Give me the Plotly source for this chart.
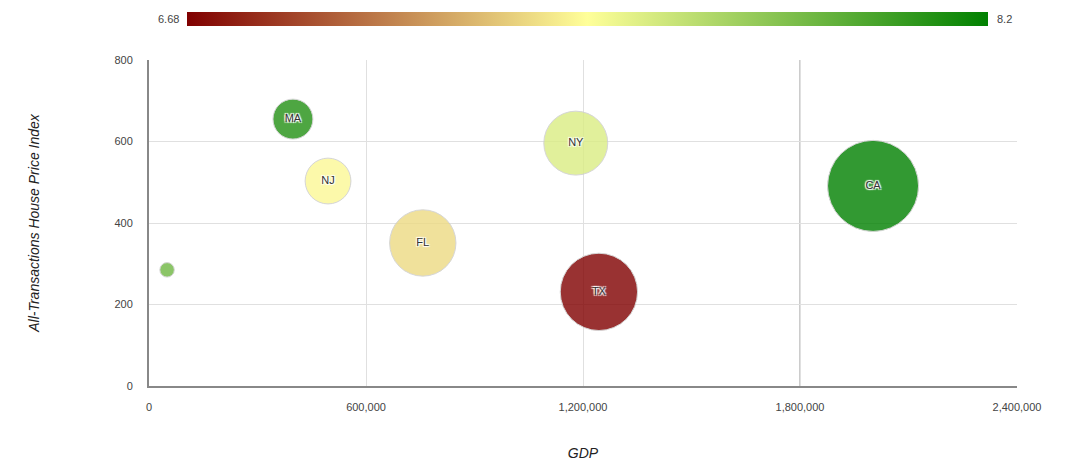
import plotly.graph_objects as go

# ---- data ----
states = ["DC", "MA", "NJ", "FL", "NY", "TX", "CA"]
gdp = [50000, 398000, 495000, 757000, 1180000, 1244000, 2002000]
hpi = [285, 655, 503, 351, 596, 231, 491]
color_val = [7.87, 8.10, 7.42, 7.33, 7.55, 6.68, 8.20]
population_m = [1.0, 7.6, 10.0, 21.0, 19.5, 28.5, 39.5]

x_ticks = [0, 600000, 1200000, 1800000, 2400000]
x_tick_text = ["0", "600,000", "1,200,000", "1,800,000", "2,400,000"]
y_ticks = [0, 200, 400, 600, 800]

FONT = "Liberation Sans, Arial, sans-serif"
max_diam = 91
sizeref = 2.0 * max(population_m) / (max_diam ** 2)
labels = [s if (p / sizeref) ** 0.5 > 20 else "" for s, p in zip(states, population_m)]

cmin, cmax = min(color_val), max(color_val)
colorscale = [[0.0, "#800000"], [0.5, "#ffff99"], [1.0, "#008000"]]

fig = go.Figure()
fig.add_trace(go.Scatter(
    x=gdp, y=hpi, mode="markers+text", text=labels,
    textposition="middle center",
    textfont=dict(family=FONT, size=11, color="#333333",
                  shadow="1px 1px 1px #fff, -1px -1px 1px #fff, 1px -1px 1px #fff, -1px 1px 1px #fff"),
    marker=dict(
        size=population_m, sizemode="area", sizeref=sizeref, sizemin=7,
        color=color_val, colorscale=colorscale, cmin=cmin, cmax=cmax,
        opacity=0.8, line=dict(color="#cccccc", width=1),
        showscale=True,
        colorbar=dict(
            orientation="h", x=0.505, xanchor="center", y=1.126, yanchor="middle",
            len=801, lenmode="pixels", thickness=14, outlinewidth=0,
            showticklabels=False, ticks="", xpad=0, ypad=0,
        ),
    ),
    hovertext=states, hoverinfo="text+x+y",
    showlegend=False,
))

fig.add_vline(x=x_ticks[3], line=dict(color="#999999", width=1), layer="below")

fig.add_annotation(text=f"{cmin:g}", xref="paper", yref="paper", x=(181 - 149) / 868,
                   y=1.126, xanchor="right", yanchor="middle", showarrow=False,
                   font=dict(family=FONT, size=11, color="#444444"))
fig.add_annotation(text=f"{cmax:g}", xref="paper", yref="paper", x=(995 - 149) / 868,
                   y=1.126, xanchor="left", yanchor="middle", showarrow=False,
                   font=dict(family=FONT, size=11, color="#444444"))

fig.update_layout(
    width=1066, height=453,
    margin=dict(l=141, r=57, t=52, b=75, autoexpand=False),
    paper_bgcolor="white", plot_bgcolor="white",
    font=dict(family=FONT, size=11, color="#444444"),
    xaxis=dict(
        range=[0, 2400000], tickvals=x_ticks, ticktext=x_tick_text,
        showgrid=True, gridcolor="#e0e0e0", gridwidth=1,
        zeroline=False, showline=True, linecolor="#888888", linewidth=2,
        ticks="", ticklabelstandoff=10, automargin=False,
        title=dict(text="<i>GDP</i>", font=dict(family=FONT, size=14, color="#222222"), standoff=44),
        fixedrange=True,
    ),
    yaxis=dict(
        range=[0, 800], tickvals=y_ticks,
        showgrid=True, gridcolor="#e0e0e0", gridwidth=1,
        zeroline=False, showline=True, linecolor="#888888", linewidth=2,
        ticks="", ticklabelstandoff=12, automargin=False,
        title=dict(text="<i>All-Transactions House Price Index</i>",
                   font=dict(family=FONT, size=14, color="#222222"), standoff=72),
        fixedrange=True,
    ),
)

fig.write_html("out.html")
